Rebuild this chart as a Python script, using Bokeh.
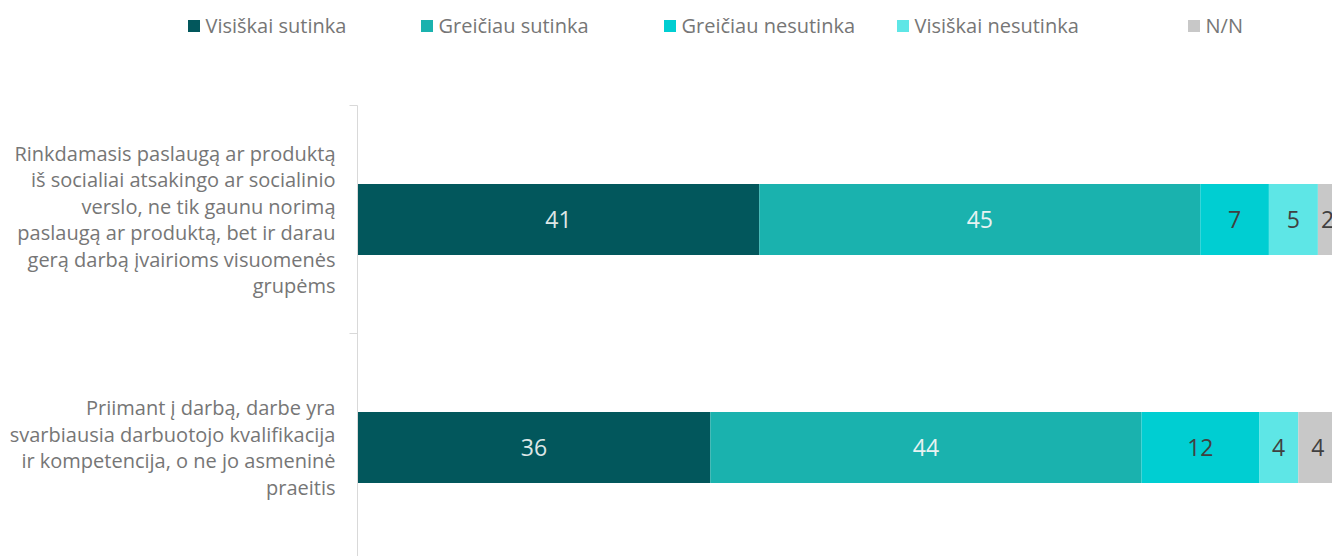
from bokeh.plotting import figure
from bokeh.models import ColumnDataSource, FixedTicker, Legend, LegendItem
from bokeh.layouts import column
from bokeh.core.properties import value
from bokeh.embed import file_html
from bokeh.resources import INLINE
import numpy as np

categories = [
    "Rinkdamasis paslaugą ar produktą\niš socialiai atsakingo ar socialinio\nverslo, ne tik gaunu norimą\npaslaugą ar produktą, bet ir darau\ngerą darbą įvairioms visuomenės\ngrupėms",
    "Priimant į darbą, darbe yra\nsvarbiausia darbuotojo kvalifikacija\nir kompetencija, o ne jo asmeninė\npraeitis",
]
series_names = ["Visiškai sutinka", "Greičiau sutinka", "Greičiau nesutinka", "Visiškai nesutinka", "N/N"]
visiskai_sutinka = [41, 36]
greiciau_sutinka = [45, 44]
greiciau_nesutinka = [7, 12]
visiskai_nesutinka = [5, 4]
nn = [2, 4]

colors = ["#02575C", "#1AB2AE", "#00CED2", "#5EE6E6", "#C8C8C8"]
label_colors = ["#DDE6E6", "#E8F2F2", "#404040", "#404040", "#404040"]

series = [visiskai_sutinka, greiciau_sutinka, greiciau_nesutinka, visiskai_nesutinka, nn]
keys = ["s0", "s1", "s2", "s3", "s4"]
ypos = [1, 0]

data = {"y": ypos}
for k, s in zip(keys, series):
    data[k] = s
source = ColumnDataSource(data)

FONT = "Open Sans"
W = 1332
TOP = 105
H = 556 - TOP
LEFT = 357
PX_PER_UNIT = 9.8
PX_PER_CAT = 228

p = figure(width=W, height=H, output_backend="svg", toolbar_location=None,
           x_range=(0, (W - LEFT) / PX_PER_UNIT), y_range=(1.5 - H / PX_PER_CAT, 1.5),
           x_axis_location=None, min_border_left=LEFT, min_border_right=0,
           min_border_top=0, min_border_bottom=0)
p.frame_align = False
p.outline_line_color = None
p.xgrid.visible = False
p.ygrid.visible = False

renderers = p.hbar_stack(keys, y="y", height=71 / PX_PER_CAT, color=colors, source=source, line_color=None)

# data labels
arr = np.array(series, dtype=float)
cum = np.cumsum(arr, axis=0)
lx, ly, lt, lc = [], [], [], []
for i in range(arr.shape[0]):
    for j in range(arr.shape[1]):
        lx.append(cum[i, j] - arr[i, j] / 2)
        ly.append(ypos[j])
        lt.append(str(int(arr[i, j])))
        lc.append(label_colors[i])
lsrc = ColumnDataSource(dict(x=lx, y=ly, t=lt, c=lc))
p.text(x="x", y="y", text="t", source=lsrc, text_color="c", text_align="center",
       text_baseline="middle", text_font=value(FONT), text_font_size="23px")

# y axis
yax = p.yaxis[0]
yax.ticker = FixedTicker(ticks=ypos, minor_ticks=[-0.5, 0.5, 1.5])
yax.major_label_overrides = {ypos[i]: categories[i] for i in range(len(categories))}
yax.major_tick_out = 0
yax.major_tick_in = 0
yax.minor_tick_out = 8
yax.minor_tick_in = 0
yax.minor_tick_line_color = "#D9D9D9"
yax.axis_line_color = "#D9D9D9"
yax.major_label_standoff = 14
yax.major_label_text_font = FONT
yax.major_label_text_font_size = "20px"
yax.major_label_text_color = "#767676"
yax.major_label_text_line_height = 0.985
yax.major_label_text_align = "right"

# legend strip above the chart (its data lies outside its visible range)
lf = figure(width=W, height=TOP, output_backend="svg", toolbar_location=None,
            x_range=(0, 1), y_range=(50, 51), x_axis_location=None, y_axis_location=None,
            min_border_left=0, min_border_right=0, min_border_top=0, min_border_bottom=0)
lf.frame_align = False
lf.outline_line_color = None
lf.xgrid.visible = False
lf.ygrid.visible = False
lrs = lf.hbar_stack(keys, y="y", height=0.3, color=colors, source=source, line_color=None)
square_left = [187, 420, 663, 896, 1187]
for name, r, sx in zip(series_names, lrs, square_left):
    lg = Legend(items=[LegendItem(label=name, renderers=[r])],
                location=(sx - 1.5, 66), orientation="horizontal",
                padding=0, margin=0, border_line_color=None, background_fill_alpha=0,
                glyph_width=15, glyph_height=15, label_standoff=5,
                label_text_font=FONT, label_text_font_size="20px", label_text_color="#767676")
    lf.add_layout(lg, "center")

open("out.html", "w").write(file_html(column(lf, p, spacing=0), INLINE))
